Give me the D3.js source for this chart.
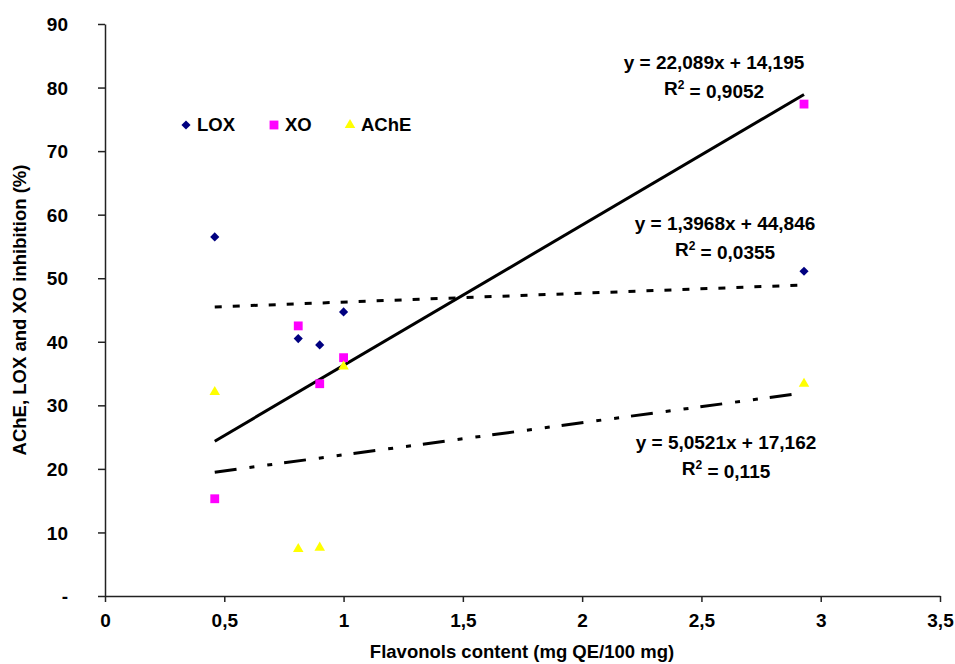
<!DOCTYPE html>
<html><head><meta charset="utf-8">
<script src="https://cdn.jsdelivr.net/npm/d3@7"></script>
<style>body{margin:0;background:#fff}svg{display:block}text{font-family:"Liberation Sans",Arial,sans-serif;font-weight:bold;fill:#000}</style>
</head><body>
<svg id="c" width="955" height="664"></svg>
<script>
const flavonols = [0.46, 0.81, 0.90, 1.00, 2.93];
const lox  = [56.5, 40.5, 39.5, 44.7, 51.1];
const xo   = [15.3, 42.5, 33.4, 37.5, 77.4];
const ache = [32.1, 7.4, 7.6, 36.1, 33.4];
const seriesNames = ["LOX", "XO", "AChE"];
const seriesColors = ["#000080", "#FF00FF", "#FFFF00"];
// trend line coefficients [slope, intercept] as printed on the chart
const trendLOX  = [1.3968, 44.846];
const trendXO   = [22.089, 14.195];
const trendAChE = [5.0521, 17.162];
const eqLOX  = ["y = 1,3968x + 44,846", "0,0355"];
const eqXO   = ["y = 22,089x + 14,195", "0,9052"];
const eqAChE = ["y = 5,0521x + 17,162", "0,115"];
const xTicks = [0, 0.5, 1, 1.5, 2, 2.5, 3, 3.5];
const yTicks = [0, 10, 20, 30, 40, 50, 60, 70, 80, 90];
const xTitle = "Flavonols content (mg QE/100 mg)";
const yTitle = "AChE, LOX and XO inhibition (%)";

const svg = d3.select("#c");
const x = d3.scaleLinear().domain([0, 3.5]).range([105, 940]);
const y = d3.scaleLinear().domain([0, 90]).range([596, 24]);

// axes
const xAxis = svg.append("g").attr("transform", `translate(0,${y(0)})`)
  .call(d3.axisBottom(x).tickValues(xTicks).tickSize(6).tickSizeOuter(0).tickPadding(12)
    .tickFormat(d => String(d).replace(".", ",")));
const yAxis = svg.append("g").attr("transform", `translate(${x(0)},0)`)
  .call(d3.axisLeft(y).tickValues(yTicks).tickSize(7).tickSizeOuter(0).tickPadding(30)
    .tickFormat(d => d === 0 ? "-" : d));
[xAxis, yAxis].forEach(a => {
  a.select(".domain").attr("stroke", "#222").attr("stroke-width", 1.5);
  a.selectAll(".tick line").attr("stroke", "#222").attr("stroke-width", 1.5);
  a.selectAll(".tick text").style("font-size", "19px").style("font-weight", "bold")
    .style("font-family", '"Liberation Sans",Arial,sans-serif').attr("fill", "#000");
});
yAxis.selectAll(".tick text").attr("dy", "0.35em");

// trend lines
const xr = d3.extent(flavonols);
const line = d3.line().x(d => x(d[0])).y(d => y(d[1]));
function trend(c, dash) {
  svg.append("path")
    .attr("d", line(xr.map(v => [v, c[0] * v + c[1]])))
    .attr("fill", "none").attr("stroke", "#000").attr("stroke-width", 3)
    .attr("stroke-dasharray", dash);
}
trend(trendXO, null);
trend(trendLOX, "7,11");
trend(trendAChE, "22,13,5,13,5,12");

// points
const symDiamond = d3.symbol().type(d3.symbolSquare).size(42);
const symSquare = d3.symbol().type(d3.symbolSquare).size(78);
const symTri = d3.symbol().type(d3.symbolTriangle).size(48);
const series = [
  {vals: lox, sym: symDiamond, rot: 45},
  {vals: xo, sym: symSquare, rot: 0},
  {vals: ache, sym: symTri, rot: 0}
];
series.forEach((s, i) => {
  svg.append("g").selectAll("path").data(s.vals).join("path")
    .attr("d", s.sym())
    .attr("transform", (d, j) => `translate(${x(flavonols[j])},${y(d)}) rotate(${s.rot})`)
    .attr("fill", seriesColors[i]);
});

// legend
const legX = [186, 274, 350];
const leg = svg.append("g");
series.forEach((s, i) => {
  leg.append("path").attr("d", s.sym()).attr("fill", seriesColors[i])
    .attr("transform", `translate(${legX[i]},125) rotate(${s.rot})`);
  leg.append("text").attr("x", legX[i] + 11).attr("y", 125).attr("dy", "0.35em")
    .style("font-size", "18.5px").text(seriesNames[i]);
});

// equation labels
function eq(e, cx, cy) {
  svg.append("text").attr("x", cx).attr("y", cy).attr("dy", "0.35em")
    .attr("text-anchor", "middle").style("font-size", "19px").text(e[0]);
  const t = svg.append("text").attr("x", cx).attr("y", cy + 26).attr("dy", "0.35em")
    .attr("text-anchor", "middle").style("font-size", "19px");
  t.append("tspan").text("R");
  t.append("tspan").attr("dy", "-0.45em").style("font-size", "12px").text("2");
  t.append("tspan").attr("dy", "0.45em").text(" = " + e[1]);
}
eq(eqXO, 714, 62);
eq(eqLOX, 725, 223);
eq(eqAChE, 726, 442);

// titles
svg.append("text").attr("x", 522).attr("y", 652).attr("dy", "0.35em").attr("text-anchor", "middle")
  .style("font-size", "18.5px").text(xTitle);
svg.append("text").attr("transform", "translate(20,310) rotate(-90)").attr("dy", "0.35em")
  .attr("text-anchor", "middle").style("font-size", "18.5px").text(yTitle);
</script>
</body></html>
